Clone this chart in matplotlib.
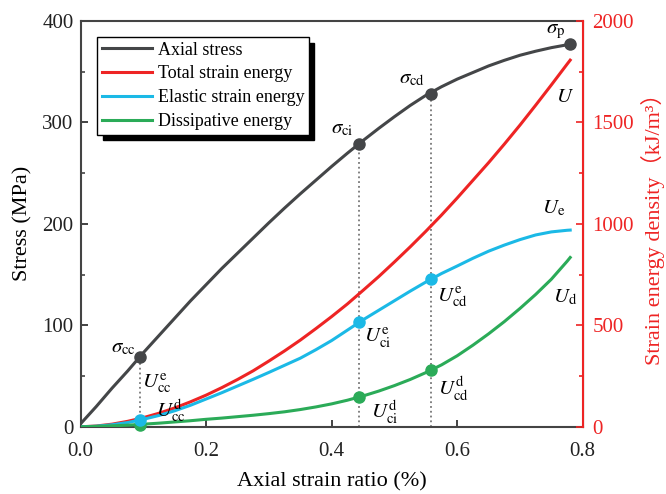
import matplotlib
matplotlib.use("Agg")
import matplotlib.pyplot as plt

plt.rcParams['font.family'] = ['Liberation Serif', 'DejaVu Serif']
plt.rcParams['mathtext.fontset'] = 'stix'

# strain (%) samples
strain = [0.0, 0.025, 0.05, 0.075, 0.1, 0.125, 0.15, 0.175, 0.2, 0.225, 0.25, 0.275,
          0.3, 0.325, 0.35, 0.375, 0.4, 0.425, 0.45, 0.475, 0.5, 0.525, 0.55, 0.575,
          0.6, 0.625, 0.65, 0.675, 0.7, 0.725, 0.75, 0.775, 0.78]
stress = [3, 20, 38, 55, 73, 90, 107, 124, 140, 156, 171, 186,
          201, 215.5, 229.5, 243, 256.5, 269.5, 282, 294, 305.5, 316.5, 326.5, 335,
          342.5, 349, 355.5, 361, 366, 370, 373.5, 376.3, 377]
energy_total = [0, 4, 13, 27, 45, 67, 93, 123, 156, 193, 233, 276,
                324, 374, 427, 484, 543, 605, 672, 740, 812, 886, 963, 1043,
                1127, 1214, 1301, 1392, 1486, 1584, 1684, 1786, 1806]
energy_elastic = [0, 3, 10, 21, 37, 56, 79, 106, 137, 168, 201, 234,
                  268, 303, 338, 380, 425, 476, 527, 574, 621, 668, 713, 755,
                  792, 830, 865, 895, 922, 945, 960, 968, 969]
energy_dissip = [0, 2, 5, 8, 13, 18, 24, 30, 37, 43, 50, 57,
                 65, 74, 85, 98, 113, 131, 152, 176, 203, 233, 267, 305,
                 350, 402, 458, 518, 583, 652, 727, 815, 834]

# characteristic points
key_strain = [0.094, 0.444, 0.558]
key_stress = [69, 279, 328]
key_ue = [33, 517, 726]
key_ud = [8, 148, 279]
peak_strain = 0.78
peak_stress = 377

c_gray = '#444648'
c_red = '#ee2424'
c_blue = '#1bb9e6'
c_green = '#2bab58'

fig = plt.figure(figsize=(6.66, 4.94), dpi=100)
ax = fig.add_axes([0.121, 0.136, 0.754, 0.822])
ax2 = ax.twinx()

for xs, ys in zip(key_strain, key_stress):
    ax.plot([xs, xs], [0, ys], ls=':', color='#777777', lw=1.3, zorder=1)

l1, = ax.plot(strain, stress, color=c_gray, lw=2.2, zorder=3)
ax.plot(key_strain + [peak_strain], key_stress + [peak_stress], 'o', color=c_gray, ms=8, zorder=4)

l2, = ax2.plot(strain, energy_total, color=c_red, lw=2.2)
l3, = ax2.plot(strain, energy_elastic, color=c_blue, lw=2.2)
l4, = ax2.plot(strain, energy_dissip, color=c_green, lw=2.2)
ax2.plot(key_strain, key_ud, 'o', color=c_green, ms=8, clip_on=False)
ax2.plot(key_strain, key_ue, 'o', color=c_blue, ms=8, clip_on=False)

ax.set_xlim(0, 0.8)
ax.set_ylim(0, 400)
ax2.set_ylim(0, 2000)
ax.set_xticks([0.0, 0.2, 0.4, 0.6, 0.8])
ax.set_xticklabels(['0.0', '0.2', '0.4', '0.6', '0.8'])
ax.set_yticks([0, 100, 200, 300, 400])
ax.set_yticks([50, 150, 250, 350], minor=True)
ax2.set_yticks([0, 500, 1000, 1500, 2000])
ax2.set_yticks([250, 750, 1250, 1750], minor=True)

ax.tick_params(direction='in', labelsize=15, colors='#222222', length=5, width=1.2)
ax.tick_params(which='minor', direction='in', length=3, width=1.2, colors='#444444')
ax.tick_params(axis='x', pad=11)
ax.tick_params(axis='y', pad=5)
ax2.tick_params(direction='in', labelsize=15, colors=c_red, length=5, width=1.2, pad=7)
ax2.tick_params(which='minor', direction='in', length=3, width=1.2, colors=c_red)

for s in ['left', 'bottom', 'top']:
    ax.spines[s].set_color('#444444')
    ax.spines[s].set_linewidth(1.5)
ax2.spines['right'].set_color(c_red)
ax2.spines['right'].set_linewidth(1.5)
for s in ['left', 'bottom', 'top']:
    ax2.spines[s].set_visible(False)

ax.set_xlabel('Axial strain ratio (%)', fontsize=16, labelpad=8)
ax.set_ylabel('Stress (MPa)', fontsize=16, labelpad=7)
ax2.set_ylabel('Strain energy density\uff08kJ/m\u00b3\uff09', fontsize=16, color=c_red,
               family=['Liberation Serif', 'Noto Sans CJK SC'], labelpad=5)

ax2.legend([l1, l2, l3, l4],
           ['Axial stress', 'Total strain energy', 'Elastic strain energy', 'Dissipative energy'],
           loc='upper left', bbox_to_anchor=(0.033, 0.96), fontsize=13, handlelength=2.8,
           frameon=True, fancybox=False, edgecolor='black', framealpha=1,
           shadow={'color': 'black', 'alpha': 1, 'ox': 4, 'oy': -4},
           borderpad=0.25, labelspacing=0.38, handletextpad=0.3, borderaxespad=0)

fs = 15
ax.text(0.068, 78, r'$\sigma_{\rm cc}$', fontsize=fs, ha='center', va='center')
ax.text(0.417, 294, r'$\sigma_{\rm ci}$', fontsize=fs, ha='center', va='center')
ax.text(0.528, 343, r'$\sigma_{\rm cd}$', fontsize=fs, ha='center', va='center')
ax.text(0.757, 389, r'$\sigma_{\rm p}$', fontsize=fs, ha='center', va='center')
ax2.text(0.772, 1624, r'$U$', fontsize=fs, ha='center', va='center')
ax2.text(0.754, 1077, r'$U_{\rm e}$', fontsize=fs, ha='center', va='center')
ax2.text(0.772, 639, r'$U_{\rm d}$', fontsize=fs, ha='center', va='center')
ax2.text(0.474, 437, r'$U_{\rm ci}^{\rm e}$', fontsize=fs, ha='center', va='center')
ax2.text(0.592, 639, r'$U_{\rm cd}^{\rm e}$', fontsize=fs, ha='center', va='center')
ax2.text(0.485, 72, r'$U_{\rm ci}^{\rm d}$', fontsize=fs, ha='center', va='center')
ax2.text(0.594, 190, r'$U_{\rm cd}^{\rm d}$', fontsize=fs, ha='center', va='center')
ax2.text(0.122, 215, r'$U_{\rm cc}^{\rm e}$', fontsize=fs, ha='center', va='center')
ax2.text(0.143, 82, r'$U_{\rm cc}^{\rm d}$', fontsize=fs, ha='center', va='center')

fig.savefig('out.png', dpi=100)
